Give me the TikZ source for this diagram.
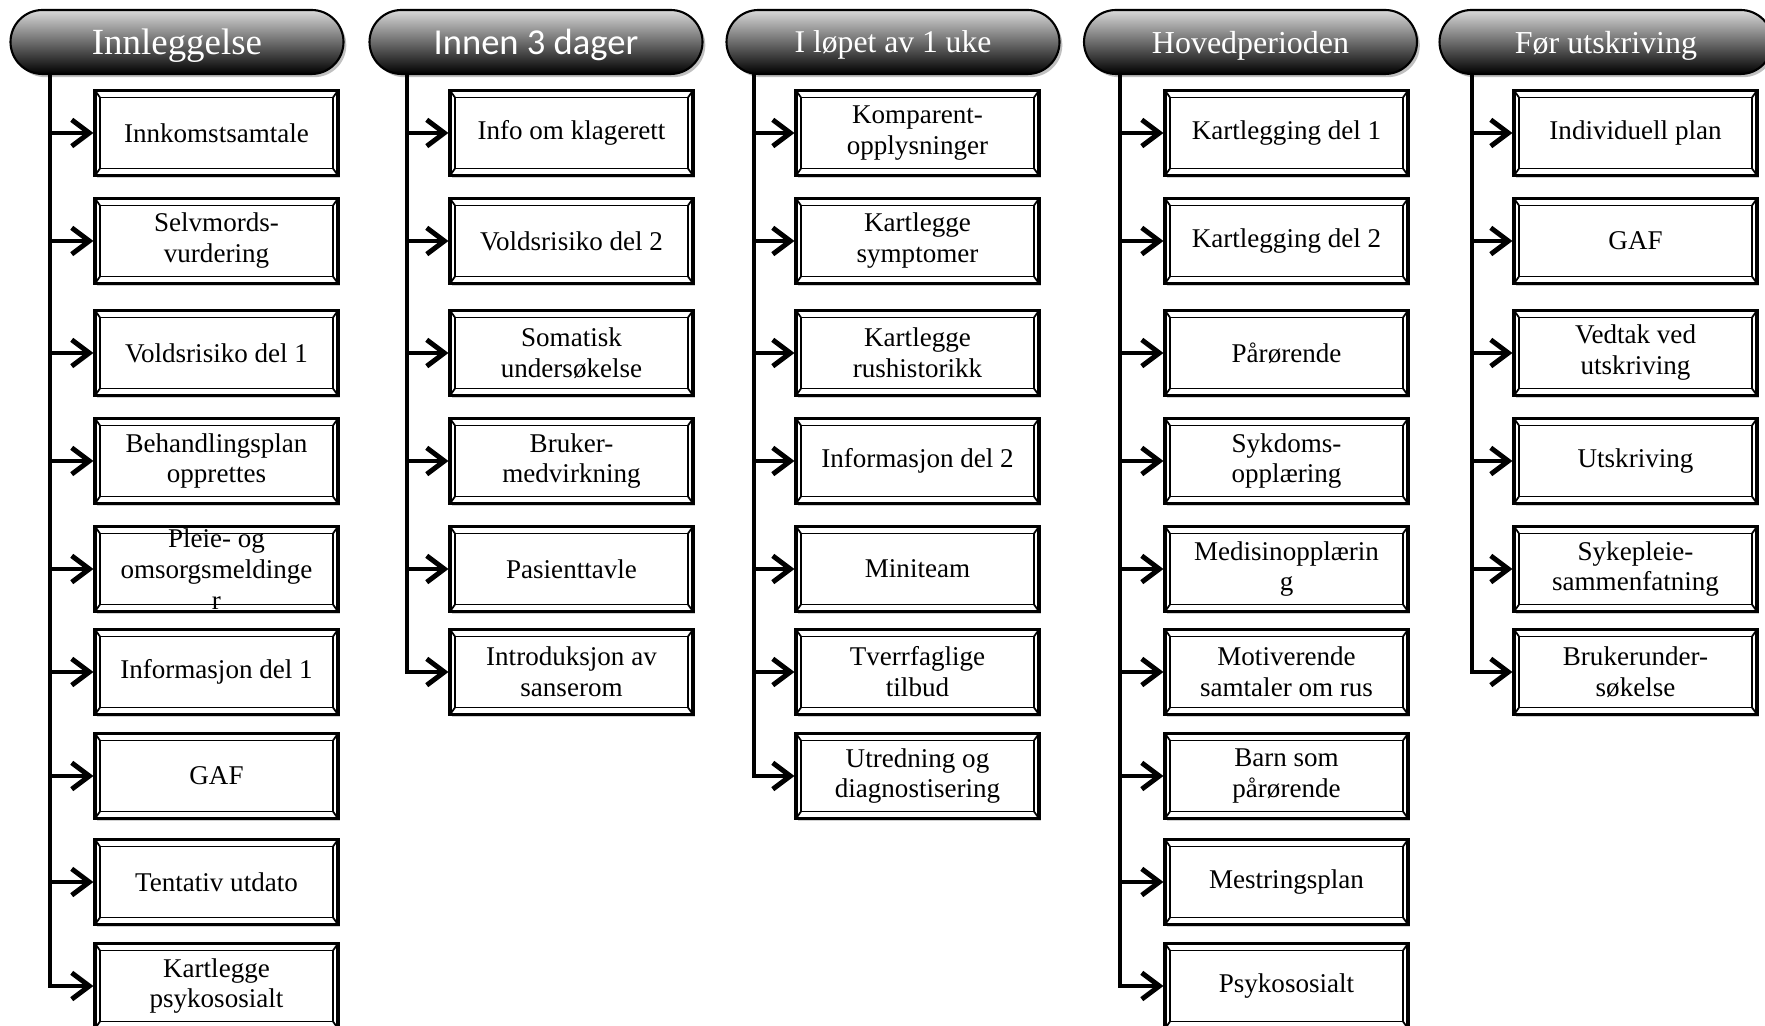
\documentclass[tikz,border=0pt]{standalone}
\usepackage{fontspec}
\setmainfont{Liberation Serif}
\newfontfamily\calibrifont{Carlito}
\usetikzlibrary{arrows.meta, shadows}

\begin{document}
\begin{tikzpicture}[
    phase/.style={draw=black, line width=0.6pt, rounded corners=0.32cm,
                  top color=gray!30, bottom color=black, text=white,
                  minimum width=3.33cm, minimum height=0.64cm, inner sep=0pt,
                  text depth=0pt,
                  drop shadow={shadow xshift=0.8pt, shadow yshift=-0.9pt,
                               fill=black!35, opacity=0.7}},
    task/.style={draw=black, line width=0.9pt, fill=white,
                 minimum width=2.43cm, minimum height=0.85cm, inner ysep=0pt,
                 align=center, font=\fontsize{7.7}{8.8}\selectfont,
                 drop shadow={shadow xshift=0.6pt, shadow yshift=-0.8pt,
                              fill=black!30, opacity=0.6},
                 path picture={
                   \draw[line width=0.5pt]
                     ([shift={(0.05,-0.07)}]path picture bounding box.north west)
                     rectangle ([shift={(-0.05,0.07)}]path picture bounding box.south east);
                   \draw[line width=0.5pt]
                     (path picture bounding box.north west) -- ++(0.05,-0.07)
                     (path picture bounding box.north east) -- ++(-0.05,-0.07)
                     (path picture bounding box.south west) -- ++(0.05,0.07)
                     (path picture bounding box.south east) -- ++(-0.05,0.07);
                 }},
    arr/.style={-{Straight Barb[length=5pt, width=7.5pt]}, line width=1.4pt}
  ]
  \path[use as bounding box, fill=white] (0,0) rectangle (17.65,-10.26);

  % phase headers
  \node[phase, font=\fontsize{10.5}{12}\selectfont] (H1) at (1.77,-0.42) {Innleggelse};
  \node[phase, font=\calibrifont\fontsize{10.4}{12}\selectfont] (H2) at (5.36,-0.42) {Innen 3 dager};
  \node[phase, font=\fontsize{9}{11}\selectfont] (H3) at (8.93,-0.42) {I løpet av 1 uke};
  \node[phase, font=\fontsize{9.1}{11}\selectfont] (H4) at (12.505,-0.42) {Hovedperioden};
  \node[phase, font=\fontsize{9.1}{11}\selectfont] (H5) at (16.06,-0.42) {Før utskriving};

  \coordinate (s1) at (0.50,-0.74);
  \coordinate (s2) at (4.07,-0.74);
  \coordinate (s3) at (7.54,-0.74);
  \coordinate (s4) at (11.20,-0.74);
  \coordinate (s5) at (14.72,-0.74);

  % Innleggelse
  \node[task] (A1) at (2.165,-1.33) {Innkomstsamtale};
  \node[task] (A2) at (2.165,-2.41) {Selvmords-\\vurdering};
  \node[task] (A3) at (2.165,-3.53) {Voldsrisiko del 1};
  \node[task] (A4) at (2.165,-4.61) {Behandlingsplan\\opprettes};
  \node[task] (A5) at (2.165,-5.69) {Pleie- og\\omsorgsmeldinge\\r};
  \node[task] (A6) at (2.165,-6.72) {Informasjon del 1};
  \node[task] (A7) at (2.165,-7.76) {GAF};
  \node[task] (A8) at (2.165,-8.82) {Tentativ utdato};
  \node[task] (A9) at (2.165,-9.86) {Kartlegge\\psykososialt};

  % Innen 3 dager
  \node[task] (B1) at (5.715,-1.33) {Info om klagerett};
  \node[task] (B2) at (5.715,-2.41) {Voldsrisiko del 2};
  \node[task] (B3) at (5.715,-3.53) {Somatisk\\undersøkelse};
  \node[task] (B4) at (5.715,-4.61) {Bruker-\\medvirkning};
  \node[task] (B5) at (5.715,-5.69) {Pasienttavle};
  \node[task] (B6) at (5.715,-6.72) {Introduksjon av\\sanserom};

  % I loepet av 1 uke
  \node[task] (C1) at (9.175,-1.33) {Komparent-\\opplysninger};
  \node[task] (C2) at (9.175,-2.41) {Kartlegge\\symptomer};
  \node[task] (C3) at (9.175,-3.53) {Kartlegge\\rushistorikk};
  \node[task] (C4) at (9.175,-4.61) {Informasjon del 2};
  \node[task] (C5) at (9.175,-5.69) {Miniteam};
  \node[task] (C6) at (9.175,-6.72) {Tverrfaglige\\tilbud};
  \node[task] (C7) at (9.175,-7.76) {Utredning og\\diagnostisering};

  % Hovedperioden
  \node[task] (D1) at (12.865,-1.33) {Kartlegging del 1};
  \node[task] (D2) at (12.865,-2.41) {Kartlegging del 2};
  \node[task] (D3) at (12.865,-3.53) {Pårørende};
  \node[task] (D4) at (12.865,-4.61) {Sykdoms-\\opplæring};
  \node[task] (D5) at (12.865,-5.69) {Medisinopplærin\\g};
  \node[task] (D6) at (12.865,-6.72) {Motiverende\\samtaler om rus};
  \node[task] (D7) at (12.865,-7.76) {Barn som\\pårørende};
  \node[task] (D8) at (12.865,-8.82) {Mestringsplan};
  \node[task] (D9) at (12.865,-9.86) {Psykososialt};

  % Foer utskriving
  \node[task] (E1) at (16.355,-1.33) {Individuell plan};
  \node[task] (E2) at (16.355,-2.41) {GAF};
  \node[task] (E3) at (16.355,-3.53) {Vedtak ved\\utskriving};
  \node[task] (E4) at (16.355,-4.61) {Utskriving};
  \node[task] (E5) at (16.355,-5.69) {Sykepleie-\\sammenfatning};
  \node[task] (E6) at (16.355,-6.72) {Brukerunder-\\søkelse};

  % branch arrows
  \foreach \i in {1,...,9} \draw[arr] (s1) |- (A\i.west);
  \foreach \i in {1,...,6} \draw[arr] (s2) |- (B\i.west);
  \foreach \i in {1,...,7} \draw[arr] (s3) |- (C\i.west);
  \foreach \i in {1,...,9} \draw[arr] (s4) |- (D\i.west);
  \foreach \i in {1,...,6} \draw[arr] (s5) |- (E\i.west);
\end{tikzpicture}
\end{document}
